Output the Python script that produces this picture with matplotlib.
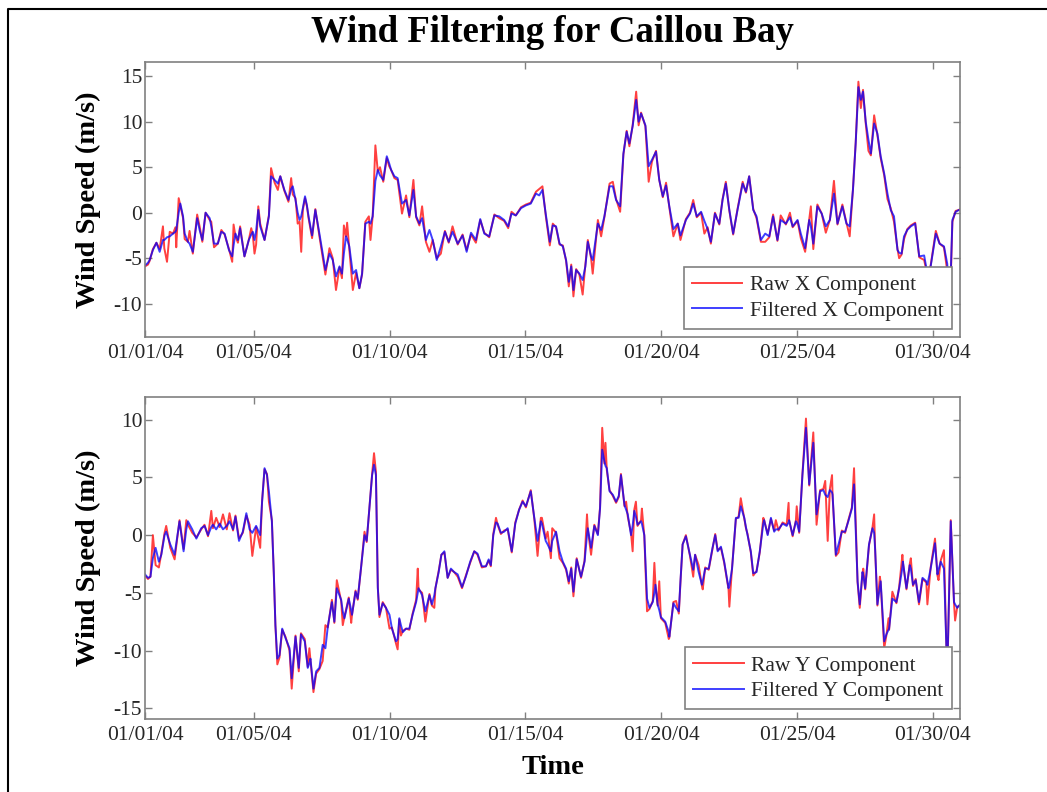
import numpy as np
import pandas as pd
import matplotlib
matplotlib.use('Agg')
import matplotlib.pyplot as plt
import matplotlib.dates as mdates
from matplotlib.lines import Line2D

plt.rcParams['font.family'] = ['Liberation Serif', 'DejaVu Serif']
plt.rcParams['axes.unicode_minus'] = False

# %%
# time in days after 01/01/04 00:00, values in m/s
days_x = [0.00, 0.11, 0.17, 0.29, 0.42, 0.54, 0.66, 0.71, 0.81, 0.91,
          1.03, 1.12, 1.15, 1.24, 1.30, 1.40, 1.46, 1.58, 1.64, 1.76,
          1.92, 2.01, 2.11, 2.23, 2.38, 2.44, 2.54, 2.68, 2.81, 2.93,
          3.09, 3.21, 3.26, 3.33, 3.42, 3.50, 3.66, 3.82, 3.91, 3.97,
          4.03, 4.09, 4.17, 4.24, 4.40, 4.56, 4.64, 4.77, 4.89, 4.98,
          5.13, 5.28, 5.38, 5.44, 5.54, 5.62, 5.69, 5.75, 5.81, 5.89,
          5.96, 6.02, 6.15, 6.27, 6.42, 6.64, 6.79, 6.91, 7.03, 7.16,
          7.25, 7.32, 7.40, 7.44, 7.52, 7.65, 7.77, 7.89, 7.99, 8.11,
          8.24, 8.30, 8.38, 8.48, 8.57, 8.65, 8.77, 8.90, 8.99, 9.06,
          9.18, 9.30, 9.46, 9.61, 9.73, 9.88, 9.98, 10.10, 10.20, 10.34,
          10.47, 10.59, 10.74, 10.89, 11.04, 11.18, 11.32, 11.51, 11.69, 11.84,
          12.00, 12.18, 12.34, 12.49, 12.67, 12.86, 13.04, 13.22, 13.37, 13.49,
          13.65, 13.84, 14.02, 14.20, 14.39, 14.51, 14.63, 14.75, 14.90, 15.01,
          15.13, 15.26, 15.38, 15.50, 15.60, 15.69, 15.77, 15.87, 15.99, 16.11,
          16.21, 16.30, 16.42, 16.48, 16.67, 16.79, 16.91, 17.10, 17.22, 17.34,
          17.49, 17.61, 17.73, 17.83, 17.95, 18.08, 18.17, 18.26, 18.42, 18.54,
          18.66, 18.81, 18.93, 19.06, 19.18, 19.30, 19.45, 19.61, 19.71, 19.91,
          20.06, 20.18, 20.31, 20.47, 20.59, 20.71, 20.83, 20.98, 21.14, 21.26,
          21.38, 21.51, 21.65, 21.81, 22.00, 22.12, 22.24, 22.39, 22.51, 22.67,
          22.83, 22.98, 23.12, 23.28, 23.40, 23.59, 23.74, 23.84, 24.02, 24.14,
          24.30, 24.45, 24.51, 24.60, 24.75, 24.91, 25.06, 25.21, 25.36, 25.49,
          25.67, 25.82, 25.94, 26.06, 26.16, 26.26, 26.35, 26.43, 26.53, 26.63,
          26.72, 26.84, 26.96, 27.08, 27.21, 27.33, 27.45, 27.57, 27.70, 27.76,
          27.85, 27.94, 28.06, 28.19, 28.35, 28.50, 28.68, 28.80, 28.92, 29.11,
          29.25, 29.41, 29.53, 29.63, 29.72, 29.84, 29.96, 30.00]
filt_x = [-5.8, -5.5, -5.2, -4.1, -3.3, -4.3, -3.0, -3.0, -2.7, -2.6,
          -2.3, -2.1, -1.9, 0.0, 1.0, -0.4, -2.3, -3.2, -3.4, -4.3,
          -0.6, -1.9, -3.0, 0.0, -0.6, -1.5, -3.4, -3.4, -2.1, -2.3,
          -4.1, -4.8, -3.6, -2.3, -3.0, -1.7, -4.8, -3.0, -2.4, -2.1,
          -3.0, -2.0, 0.3, -1.5, -3.0, -0.4, 4.0, 3.6, 3.2, 4.0,
          2.5, 1.4, 2.6, 2.9, 1.4, 0.0, -0.8, -0.4, 0.5, 1.8,
          0.8, -0.4, -2.5, 0.3, -2.3, -6.3, -4.5, -5.2, -7.0, -5.9,
          -6.7, -4.5, -2.6, -2.9, -3.7, -6.7, -6.3, -8.3, -6.7, -1.2,
          -1.0, -1.2, -0.4, 3.5, 4.7, 4.1, 3.6, 6.2, 5.4, 4.7,
          4.0, 3.8, 1.0, 1.4, -0.3, 2.5, -0.4, -1.2, -0.6, -3.0,
          -1.9, -3.0, -5.2, -3.7, -2.1, -3.2, -2.1, -3.4, -2.5, -4.3,
          -2.2, -3.0, -0.7, -2.3, -2.6, -0.3, -0.4, -0.8, -1.5, -0.1,
          -0.3, 0.5, 0.8, 1.0, 2.1, 1.9, 2.5, -0.1, -3.2, -1.4,
          -1.5, -3.4, -3.7, -5.2, -7.6, -5.9, -8.5, -6.3, -6.7, -7.4,
          -5.9, -3.2, -4.8, -5.2, -1.2, -1.9, -0.4, 2.9, 2.9, 1.4,
          0.7, 6.5, 8.9, 7.6, 9.5, 12.4, 10.0, 10.9, 9.6, 5.1,
          5.8, 6.7, 3.6, 1.8, 3.0, 0.7, -1.8, -1.2, -2.5, -0.8,
          -0.1, 1.0, -0.4, 0.1, -0.9, -1.8, -3.2, -0.1, -1.2, 1.4,
          3.2, 0.3, -2.3, 0.3, 3.2, 2.3, 4.0, 0.3, -0.4, -3.0,
          -2.3, -2.6, -0.4, -3.0, -0.8, -1.2, -0.5, -1.5, -0.8, -2.3,
          -3.9, -0.8, -1.5, -3.4, 0.7, -0.1, -1.5, -0.8, 2.1, -1.2,
          0.7, -1.2, -1.5, 2.5, 7.6, 13.8, 12.4, 13.3, 10.0, 8.0,
          6.5, 9.8, 8.7, 6.2, 4.3, 2.1, 0.3, -0.4, -4.1, -4.4,
          -4.5, -2.6, -1.9, -1.5, -1.2, -4.8, -4.7, -6.7, -5.9, -2.3,
          -3.4, -3.7, -5.6, -9.6, -0.8, 0.1, 0.3, 0.3]
raw_x = [-5.9, -5.7, -5.3, -4.0, -3.3, -4.0, -1.5, -3.9, -5.4, -2.1,
         -2.3, -1.6, -3.8, 1.6, 0.8, -0.6, -2.9, -3.2, -2.0, -4.5,
         -0.2, -1.5, -3.2, 0.0, -0.8, -1.0, -3.8, -3.4, -1.9, -2.4,
         -4.0, -5.4, -1.3, -2.6, -3.3, -1.5, -4.8, -3.0, -1.7, -2.5,
         -4.5, -3.5, 0.7, -1.2, -3.0, -0.3, 4.9, 3.3, 2.5, 4.0,
         2.4, 1.2, 3.8, 2.0, 1.6, -1.2, -1.0, -4.3, 0.3, 1.6,
         0.7, -0.6, -2.8, 0.4, -2.6, -6.8, -3.9, -5.0, -8.5, -6.0,
         -7.2, -1.4, -2.6, -1.1, -4.0, -8.5, -6.6, -8.3, -6.8, -1.0,
         -0.4, -3.0, -0.4, 7.4, 4.5, 5.0, 3.4, 6.0, 5.1, 4.7,
         3.8, 3.6, -0.1, 1.9, -0.5, 3.6, -0.5, -1.4, 0.7, -3.2,
         -4.3, -3.0, -5.0, -4.5, -2.0, -3.3, -1.5, -3.5, -2.4, -4.1,
         -2.4, -3.3, -0.8, -2.2, -2.7, -0.2, -0.6, -0.9, -1.7, 0.1,
         -0.3, 0.6, 0.9, 1.1, 2.3, 2.6, 2.9, -0.3, -3.6, -1.2,
         -1.6, -3.5, -3.6, -5.3, -8.1, -5.7, -9.2, -6.2, -6.8, -9.0,
         -5.7, -3.0, -5.0, -6.7, -0.8, -2.6, -0.5, 3.2, 3.4, 1.5,
         0.1, 6.4, 9.0, 7.3, 9.6, 13.3, 9.6, 11.0, 9.5, 3.4,
         5.6, 6.8, 3.6, 1.7, 3.3, 0.6, -2.6, -1.2, -3.0, -0.7,
         0.0, 1.4, -0.5, 0.0, -2.3, -1.6, -3.4, 0.0, -1.3, 1.5,
         3.4, 0.2, -2.4, 0.4, 3.4, 2.2, 4.0, 0.4, -0.6, -3.2,
         -3.2, -2.7, -0.2, -3.1, -0.3, -1.3, 0.0, -1.6, -0.9, -2.8,
         -4.3, -0.7, 0.7, -4.0, 0.9, -0.1, -2.2, -0.8, 3.5, -1.3,
         0.9, -1.1, -2.6, 2.6, 7.7, 14.4, 11.5, 13.5, 9.8, 6.8,
         6.3, 10.7, 8.5, 6.0, 4.1, 1.5, 0.5, -1.0, -4.0, -5.0,
         -4.6, -2.9, -1.8, -1.4, -1.1, -4.9, -5.2, -6.9, -5.8, -2.0,
         -3.4, -3.8, -6.4, -10.5, -1.0, 0.2, 0.3, 0.4]

days_y = [0.00, 0.11, 0.20, 0.29, 0.39, 0.51, 0.60, 0.72, 0.78, 0.93,
          1.09, 1.27, 1.42, 1.52, 1.58, 1.74, 1.89, 2.07, 2.19, 2.32,
          2.44, 2.50, 2.62, 2.75, 2.87, 3.01, 3.11, 3.24, 3.33, 3.46,
          3.60, 3.73, 3.85, 3.95, 4.09, 4.24, 4.31, 4.40, 4.49, 4.56,
          4.67, 4.74, 4.80, 4.87, 4.95, 5.05, 5.17, 5.32, 5.40, 5.54,
          5.66, 5.74, 5.88, 5.99, 6.05, 6.09, 6.20, 6.30, 6.42, 6.54,
          6.64, 6.73, 6.88, 6.97, 7.06, 7.22, 7.28, 7.34, 7.50, 7.59,
          7.62, 7.75, 7.83, 7.95, 8.08, 8.16, 8.26, 8.36, 8.43, 8.50,
          8.57, 8.63, 8.75, 8.87, 9.00, 9.09, 9.24, 9.30, 9.36, 9.42,
          9.49, 9.61, 9.73, 9.85, 9.98, 10.04, 10.07, 10.20, 10.32, 10.47,
          10.56, 10.65, 10.69, 10.81, 10.91, 11.02, 11.14, 11.26, 11.38, 11.51,
          11.67, 11.81, 11.97, 12.12, 12.24, 12.40, 12.55, 12.65, 12.73, 12.82,
          12.92, 12.98, 13.10, 13.22, 13.35, 13.50, 13.63, 13.77, 13.90, 14.02,
          14.20, 14.33, 14.45, 14.57, 14.61, 14.75, 14.82, 14.94, 14.99, 15.13,
          15.26, 15.38, 15.50, 15.60, 15.69, 15.77, 15.89, 16.05, 16.18, 16.27,
          16.30, 16.42, 16.54, 16.67, 16.75, 16.83, 16.91, 16.95, 17.00, 17.10,
          17.22, 17.34, 17.44, 17.52, 17.65, 17.71, 17.77, 17.89, 17.95, 18.01,
          18.07, 18.13, 18.26, 18.29, 18.38, 18.48, 18.57, 18.69, 18.75, 18.79,
          18.87, 18.93, 18.99, 19.15, 19.28, 19.30, 19.45, 19.55, 19.65, 19.71,
          19.79, 19.91, 20.06, 20.18, 20.25, 20.38, 20.50, 20.53, 20.62, 20.75,
          20.89, 20.99, 21.08, 21.20, 21.32, 21.48, 21.51, 21.61, 21.75, 21.85,
          21.93, 22.06, 22.12, 22.18, 22.30, 22.39, 22.51, 22.63, 22.76, 22.79,
          22.92, 23.04, 23.16, 23.22, 23.32, 23.47, 23.62, 23.69, 23.71, 23.84,
          23.96, 23.99, 24.08, 24.20, 24.33, 24.45, 24.60, 24.72, 24.85, 24.97,
          25.04, 25.13, 25.21, 25.29, 25.31, 25.43, 25.53, 25.65, 25.77, 25.89,
          26.02, 26.10, 26.23, 26.31, 26.41, 26.44, 26.51, 26.65, 26.78, 26.84,
          26.88, 26.96, 27.05, 27.08, 27.21, 27.29, 27.37, 27.39, 27.51, 27.66,
          27.76, 27.88, 27.90, 28.03, 28.15, 28.19, 28.27, 28.37, 28.49, 28.62,
          28.76, 28.80, 28.92, 29.08, 29.17, 29.21, 29.29, 29.41, 29.53, 29.66,
          29.78, 29.82, 29.90, 30.00]
filt_y = [-3.4, -3.7, -3.6, -2.0, -1.1, -2.3, -1.7, 0.0, 0.3, -0.8,
          -1.7, 1.2, -1.4, 0.5, 1.2, 0.5, -0.3, 0.6, 0.8, 0.0,
          0.7, 0.9, 0.5, 1.0, 0.5, 0.8, 1.2, 0.5, 1.6, -0.5,
          0.3, 1.9, 0.5, 0.2, 0.8, 0.0, 2.9, 5.8, 5.2, 3.8,
          1.2, -3.2, -7.8, -10.7, -10.4, -8.1, -8.9, -9.8, -12.4, -8.8,
          -11.5, -8.6, -9.2, -11.5, -11.1, -10.7, -13.3, -11.8, -11.5, -9.5,
          -9.8, -7.9, -5.8, -7.5, -4.6, -5.6, -6.6, -7.2, -5.5, -6.5,
          -6.9, -4.9, -5.5, -2.9, 0.0, -0.5, 2.3, 5.2, 6.1, 5.2,
          -4.6, -6.9, -5.9, -6.3, -6.9, -8.1, -9.2, -9.0, -7.2, -7.8,
          -8.4, -8.1, -8.1, -6.9, -5.8, -5.0, -4.6, -5.2, -6.6, -5.2,
          -6.0, -5.2, -4.6, -3.2, -1.7, -1.4, -3.7, -2.9, -3.2, -3.4,
          -4.5, -3.6, -2.3, -1.4, -1.6, -2.7, -2.7, -2.1, -2.6, 0.0,
          1.1, 1.0, 0.2, 0.3, 0.6, -1.4, 1.0, 2.2, 2.9, 2.5,
          3.8, 1.5, -0.5, 1.2, 1.0, -0.5, -0.8, -1.4, -0.5, 0.3,
          -1.4, -2.3, -2.9, -4.0, -2.9, -4.9, -2.1, -3.6, -2.3, 0.0,
          0.6, -1.1, 0.8, 0.0, 2.3, 7.4, 6.4, 6.0, 5.8, 3.8,
          3.5, 2.9, 3.4, 5.2, 2.6, 2.2, 1.8, 0.0, 0.8, 2.1,
          1.6, 0.9, 1.2, 1.0, 0.0, -5.5, -6.3, -5.8, -5.0, -4.3,
          -6.0, -6.5, -7.1, -7.5, -8.4, -8.8, -5.9, -6.3, -6.6, -4.0,
          -0.8, -0.1, -1.7, -3.0, -1.7, -3.2, -4.3, -4.0, -2.9, -2.9,
          -1.1, 0.0, -1.4, -1.0, -2.3, -4.6, -4.4, -2.9, 1.5, 1.5,
          2.5, 1.5, 0.7, 0.0, -1.4, -3.3, -3.2, -1.4, 1.0, 1.3,
          0.0, 1.5, 0.3, 0.5, 0.5, 1.0, 0.8, 1.1, 1.3, 0.0,
          1.2, 1.1, 0.3, 5.2, 9.3, 4.4, 8.0, 1.8, 3.8, 3.9,
          3.5, 3.3, 3.9, 3.7, 3.5, -1.7, -0.8, 0.3, 0.3, 1.2,
          2.3, 4.4, -4.0, -6.0, -3.2, -3.5, -4.6, -0.8, 0.6, 0.2,
          -1.4, -6.0, -4.5, -4.0, -9.2, -8.6, -8.2, -8.1, -5.5, -5.8,
          -4.6, -2.8, -2.3, -4.6, -2.6, -2.9, -4.3, -3.9, -5.8, -3.7,
          -4.0, -4.3, -2.9, -0.7, -3.4, -3.0, -2.3, -2.9, -12.0, 1.2,
          -5.8, -6.0, -6.3, -6.0]
raw_y = [-3.5, -3.8, -3.6, 0.0, -2.6, -2.8, -1.6, 0.2, 0.8, -1.1,
         -2.1, 1.3, -1.2, 1.3, 0.9, 0.2, -0.2, 0.5, 0.9, -0.1,
         2.1, 0.6, 1.5, 0.7, 1.8, 0.5, 1.9, 0.4, 1.7, -0.3,
         0.2, 1.7, 0.9, -1.8, 0.7, -1.1, 3.0, 5.7, 5.3, 2.9,
         1.3, -3.3, -7.8, -11.2, -10.6, -8.2, -8.8, -10.0, -13.3, -8.7,
         -11.8, -8.5, -9.0, -11.4, -9.8, -10.8, -13.6, -12.0, -11.6, -10.9,
         -7.8, -8.0, -5.6, -7.6, -3.9, -5.7, -7.8, -7.1, -5.4, -7.6,
         -6.9, -4.8, -5.6, -2.9, 0.3, -0.6, 2.4, 5.3, 7.1, 5.5,
         -4.5, -7.1, -5.8, -6.3, -8.1, -8.0, -9.4, -9.9, -7.3, -8.7,
         -8.3, -8.1, -8.2, -6.8, -5.6, -2.9, -4.7, -5.0, -7.5, -5.1,
         -6.1, -6.3, -4.6, -3.1, -1.7, -1.5, -3.7, -3.0, -3.2, -3.6,
         -4.6, -3.5, -2.4, -1.4, -1.7, -2.8, -2.7, -2.2, -2.7, 0.1,
         1.5, 0.9, 0.1, 0.4, 0.5, -1.5, 1.1, 2.2, 3.0, 2.4,
         3.9, 1.4, -1.8, 1.5, 1.5, -0.3, 0.3, -2.0, 0.6, 0.2,
         -2.0, -2.4, -3.0, -4.2, -2.8, -5.3, -2.0, -3.7, -2.2, 1.8,
         0.5, -1.7, 0.9, 0.1, 2.4, 9.3, 6.2, 8.0, 5.6, 3.9,
         3.4, 2.8, 3.3, 5.3, 2.5, 2.9, 1.6, 0.2, -1.4, 2.2,
         2.9, 0.8, 1.3, 2.3, -0.1, -6.6, -6.4, -5.7, -2.4, -4.3,
         -6.1, -4.0, -7.2, -7.6, -9.0, -8.9, -5.8, -5.7, -6.8, -4.1,
         -0.8, 0.0, -1.8, -3.6, -1.7, -2.6, -4.4, -4.7, -2.8, -3.0,
         -1.2, 0.1, -1.3, -1.1, -2.4, -4.7, -6.2, -2.8, 1.4, 1.6,
         3.2, 1.4, 0.6, 0.1, -1.5, -3.5, -3.1, -1.5, 1.5, 1.3,
         0.1, 1.4, 0.4, 1.3, 0.4, 1.1, 0.9, 2.8, 1.3, -0.1,
         1.3, 2.5, 0.2, 5.3, 10.1, 4.3, 8.9, 0.9, 3.9, 4.0,
         4.7, -0.5, 4.0, 5.2, 3.4, -1.8, -1.5, 0.4, 0.2, 1.3,
         2.4, 5.8, -4.1, -6.3, -3.3, -2.9, -4.7, -0.9, 0.7, 1.8,
         -1.5, -6.1, -3.6, -4.1, -9.8, -8.7, -7.2, -8.2, -4.9, -5.9,
         -4.5, -1.7, -2.4, -4.7, -2.5, -2.0, -4.4, -3.8, -6.0, -3.8,
         -4.1, -6.0, -2.8, -0.3, -3.5, -3.9, -2.2, -1.3, -12.5, 1.3,
         -5.9, -7.4, -6.2, -6.1]

assert len(days_x) == len(filt_x) == len(raw_x)
assert len(days_y) == len(filt_y) == len(raw_y)

tick_days = ['2004-01-01', '2004-01-05', '2004-01-10', '2004-01-15',
             '2004-01-20', '2004-01-25', '2004-01-30']

t0 = pd.Timestamp('2004-01-01')
to_time = lambda d: t0 + pd.to_timedelta(np.asarray(d), unit='D')

# %%
fig = plt.figure(figsize=(10.47, 7.92), dpi=100)
ax_x = fig.add_axes([0.1385, 0.5745, 0.7784, 0.3472])
ax_y = fig.add_axes([0.1385, 0.0926, 0.7784, 0.4066])

panels = [(ax_x, days_x, raw_x, filt_x, 'X', (-13.66, 16.56), [-10, -5, 0, 5, 10, 15]),
          (ax_y, days_y, raw_y, filt_y, 'Y', (-15.9, 12.0), [-15, -10, -5, 0, 5, 10])]

for ax, d, raw, filt, comp, ylim, yt in panels:
    t = to_time(d)
    ax.plot(t, raw, color='#ff0000', lw=1.4, alpha=0.75, label=f'Raw {comp} Component')
    ax.plot(t, filt, color='#0000ff', lw=1.4, alpha=0.75, label=f'Filtered {comp} Component')
    ax.set_xlim(t0, t0 + pd.Timedelta(days=30))
    ax.set_ylim(*ylim)
    ax.set_yticks(yt)
    ax.set_xticks(pd.to_datetime(tick_days))
    ax.xaxis.set_major_formatter(mdates.DateFormatter('%m/%d/%y'))
    ax.tick_params(direction='in', length=5, width=1, top=True, right=True,
                   color='#808080', labelcolor='#262626', labelsize=15.5)
    ax.tick_params(axis='x', pad=5)
    ax.tick_params(axis='y', pad=2)
    for s in ax.spines.values():
        s.set_color('#808080')
        s.set_linewidth(1.2)
    ax.set_ylabel('Wind Speed (m/s)', fontsize=20.5, fontweight='bold', color='black')
    ax.yaxis.label.set_va('center')
    ax.yaxis.set_label_coords(-0.069, 0.5)
    leg = ax.legend(loc='lower right', bbox_to_anchor=(0.990, 0.029), borderaxespad=0,
                    fontsize=15.5, fancybox=False, framealpha=1, edgecolor='#808080',
                    handlelength=2.35, handletextpad=0.35, labelspacing=0.25,
                    borderpad=0.38)
    leg.get_frame().set_linewidth(1.2)
    for txt in leg.get_texts():
        txt.set_color('#262626')

fig.text(0.528, 1 - 32 / 792, 'Wind Filtering for Caillou Bay', ha='center', va='center',
         fontsize=26.5, fontweight='bold')
fig.text(0.528, 1 - 767 / 792, 'Time', ha='center', va='center', fontsize=20.5, fontweight='bold')

# frame around the figure (left and top edges visible in the original)
fig.add_artist(Line2D([8 / 1047, 8 / 1047, 1.0], [0.0, 1 - 9 / 792, 1 - 9 / 792],
                      transform=fig.transFigure, color='black', lw=1.5))

fig.savefig('out.png', dpi=100)
